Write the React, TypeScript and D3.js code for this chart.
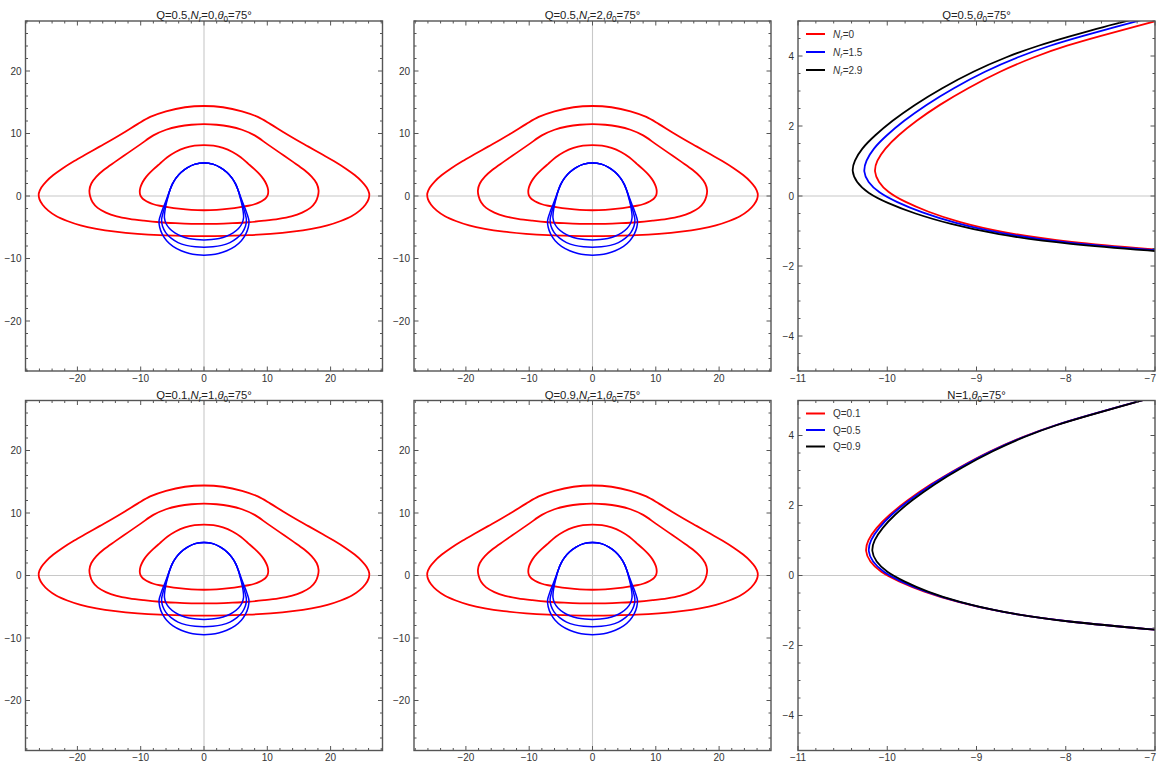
import React from "react";
import * as d3 from "d3";

type Pt = [number, number];

// ---------- Left panels: isoradial half-curves (x >= 0), listed top -> bottom ----------
const outerRed: Pt[] = [
  [0, 14.4], [3, 14.2], [6, 13.55], [8.5, 12.65], [10.5, 11.5], [12.5, 10.25], [14.5, 9.05],
  [16.5, 7.9], [18.5, 6.75], [20.5, 5.6], [22.3, 4.45], [23.8, 3.35], [24.9, 2.35], [25.7, 1.35],
  [26.1, 0.4], [26.0, -0.5], [25.5, -1.4], [24.6, -2.35], [23.3, -3.25], [21.6, -4.0],
  [19.5, -4.7], [17, -5.25], [14, -5.7], [10.5, -6.05], [7, -6.27], [3.5, -6.38], [0, -6.42],
];
const middleRed: Pt[] = [
  [0, 11.5], [2, 11.4], [4, 11.12], [6, 10.6], [8, 9.7], [10, 8.3], [12, 6.9], [14, 5.5],
  [15.8, 4.2], [17.0, 3.1], [17.8, 2.0], [18.1, 0.9], [18.0, 0.0], [17.6, -1.0], [16.8, -1.9],
  [15.5, -2.65], [13.8, -3.25], [11.8, -3.65], [9.5, -3.95], [7, -4.2], [4.5, -4.35],
  [2, -4.45], [0, -4.47],
];
const innerRed: Pt[] = [
  [0, 8.15], [1.5, 8.05], [3, 7.7], [4.5, 7.05], [5.8, 6.2], [7.0, 5.15], [8.0, 4.25],
  [8.8, 3.45], [9.4, 2.7], [9.8, 2.0], [10.05, 1.35], [10.15, 0.68], [10.05, 0.1], [9.8, -0.3],
  [9.4, -0.65], [8.74, -1.03], [7.99, -1.32], [7.0, -1.56], [5.5, -1.83], [4.0, -2.03],
  [2.0, -2.22], [0, -2.28],
];
const blueTop: Pt[] = [
  [0, 5.3], [1.4, 5.1], [2.6, 4.55], [3.6, 3.8], [4.4, 2.9], [5.0, 1.9], [5.4, 0.9],
];
const blueInnerLow: Pt[] = [
  [5.7, -0.2], [6.0, -1.4], [6.2, -2.6], [6.25, -3.5], [6.0, -4.4], [5.45, -5.2],
  [4.6, -5.9], [3.55, -6.45], [2.4, -6.8], [1.2, -6.97], [0, -7.02],
];
const blueMiddleLow: Pt[] = [
  [5.75, -0.2], [6.1, -1.4], [6.45, -2.6], [6.7, -3.8], [6.55, -4.85], [6.05, -5.85],
  [5.2, -6.75], [4.1, -7.45], [2.8, -7.9], [1.4, -8.13], [0, -8.2],
];
const blueOuterLow: Pt[] = [
  [5.8, -0.2], [6.25, -1.4], [6.75, -2.7], [7.1, -3.95], [7.0, -5.0], [6.6, -6.1],
  [5.9, -7.15], [4.9, -8.05], [3.6, -8.75], [2.3, -9.2], [1.1, -9.4], [0, -9.46],
];

// ---------- Right panels: zoom on the inner ring (points ordered by increasing y) ----------
const nrLabels = ["0", "1.5", "2.9"];
const nr0: Pt[] = [
  [-6.9, -1.55], [-7.99, -1.32], [-8.74, -1.03], [-9.2, -0.75], [-9.55, -0.45], [-9.82, -0.15],
  [-10.0, 0.12], [-10.1, 0.4], [-10.15, 0.7], [-10.12, 1.0], [-10.03, 1.35], [-9.88, 1.73],
  [-9.68, 2.14], [-9.42, 2.6], [-9.1, 3.08], [-8.74, 3.56], [-8.35, 3.98], [-7.99, 4.3],
  [-7.6, 4.58], [-7.24, 4.83], [-6.9, 5.06],
];
const nr15: Pt[] = [
  [-6.9, -1.57], [-7.99, -1.35], [-8.76, -1.06], [-9.25, -0.77], [-9.62, -0.47], [-9.9, -0.17],
  [-10.1, 0.1], [-10.22, 0.4], [-10.27, 0.7], [-10.24, 1.0], [-10.16, 1.35], [-10.01, 1.73],
  [-9.82, 2.14], [-9.57, 2.6], [-9.26, 3.08], [-8.91, 3.56], [-8.53, 3.98], [-8.18, 4.3],
  [-7.8, 4.58], [-7.45, 4.83], [-7.1, 5.06],
];
const nr29: Pt[] = [
  [-6.9, -1.59], [-7.99, -1.38], [-8.8, -1.09], [-9.3, -0.8], [-9.7, -0.5], [-10.0, -0.2],
  [-10.22, 0.08], [-10.35, 0.4], [-10.4, 0.72], [-10.37, 1.0], [-10.29, 1.35], [-10.14, 1.73],
  [-9.95, 2.14], [-9.7, 2.6], [-9.39, 3.08], [-9.04, 3.56], [-8.66, 3.98], [-8.31, 4.3],
  [-7.93, 4.58], [-7.58, 4.83], [-7.22, 5.06],
];
const qLabels = ["0.1", "0.5", "0.9"];
const q01: Pt[] = [
  [-6.9, -1.57], [-7.99, -1.33], [-8.75, -1.04], [-9.22, -0.76], [-9.6, -0.46], [-9.88, -0.16],
  [-10.08, 0.1], [-10.2, 0.4], [-10.25, 0.7], [-10.22, 1.0], [-10.13, 1.35], [-9.98, 1.73],
  [-9.78, 2.14], [-9.52, 2.6], [-9.2, 3.08], [-8.85, 3.56], [-8.47, 3.98], [-8.12, 4.3],
  [-7.74, 4.58], [-7.4, 4.83], [-7.06, 5.06],
];
const q05: Pt[] = [
  [-6.9, -1.57], [-7.99, -1.33], [-8.75, -1.04], [-9.21, -0.76], [-9.58, -0.46], [-9.86, -0.16],
  [-10.05, 0.1], [-10.17, 0.4], [-10.22, 0.7], [-10.19, 1.0], [-10.1, 1.35], [-9.96, 1.73],
  [-9.76, 2.14], [-9.51, 2.6], [-9.19, 3.08], [-8.84, 3.56], [-8.46, 3.98], [-8.12, 4.3],
  [-7.74, 4.58], [-7.4, 4.83], [-7.06, 5.06],
];
const q09: Pt[] = [
  [-6.9, -1.57], [-7.99, -1.33], [-8.74, -1.04], [-9.2, -0.76], [-9.56, -0.46], [-9.82, -0.16],
  [-10.01, 0.1], [-10.13, 0.4], [-10.18, 0.7], [-10.15, 1.0], [-10.06, 1.35], [-9.92, 1.73],
  [-9.73, 2.14], [-9.48, 2.6], [-9.17, 3.08], [-8.82, 3.56], [-8.45, 3.98], [-8.11, 4.3],
  [-7.73, 4.58], [-7.39, 4.83], [-7.06, 5.06],
];

// ---------- Tick labels ----------
const isoTickValues = [-20, -10, 0, 10, 20];
const zoomXTickValues = [-11, -10, -9, -8, -7];
const zoomYTickValues = [-4, -2, 0, 2, 4];

type Seg = { t: string; i?: boolean; s?: boolean };
const leftTitles: Seg[][] = [
  [{ t: "Q=0.5," }, { t: "N", i: true }, { t: "r", i: true, s: true }, { t: "=0," }, { t: "θ", i: true }, { t: "0", s: true }, { t: "=75°" }],
  [{ t: "Q=0.5," }, { t: "N", i: true }, { t: "r", i: true, s: true }, { t: "=2," }, { t: "θ", i: true }, { t: "0", s: true }, { t: "=75°" }],
  [{ t: "Q=0.1," }, { t: "N", i: true }, { t: "r", i: true, s: true }, { t: "=1," }, { t: "θ", i: true }, { t: "0", s: true }, { t: "=75°" }],
  [{ t: "Q=0.9," }, { t: "N", i: true }, { t: "r", i: true, s: true }, { t: "=1," }, { t: "θ", i: true }, { t: "0", s: true }, { t: "=75°" }],
];
const rightTitles: Seg[][] = [
  [{ t: "Q=0.5," }, { t: "θ", i: true }, { t: "0", s: true }, { t: "=75°" }],
  [{ t: "N=1," }, { t: "θ", i: true }, { t: "0", s: true }, { t: "=75°" }],
];

const COLORS = ["#ff0000", "#0000ff", "#000000"];
const FONT = "'Liberation Sans', Arial, Helvetica, sans-serif";
const FRAME = "#555555";
const WIDTH = 1157;

const COLS = [{ l: 25.5, w: 357 }, { l: 414, w: 357 }, { l: 798, w: 357 }];
const ROWS = [{ t: 21, h: 350 }, { t: 400.5, h: 350 }];

function mirrorClosed(half: Pt[]): Pt[] {
  const left = half.slice(1, -1).reverse().map(([x, y]) => [-x, y] as Pt);
  return [...half, ...left];
}

function Rich({ segs, x, y, size, anchor, fill }: { segs: Seg[]; x: number; y: number; size: number; anchor: string; fill: string }) {
  const out: React.ReactNode[] = [];
  let inSub = false;
  segs.forEach((s, k) => {
    let dy = 0;
    if (s.s && !inSub) { dy = size * 0.28; inSub = true; }
    else if (!s.s && inSub) { dy = -size * 0.28; inSub = false; }
    out.push(
      <tspan key={k} dy={dy} fontStyle={s.i ? "italic" : "normal"} fontSize={s.s ? size * 0.72 : size}>
        {s.t}
      </tspan>
    );
  });
  return (
    <text x={x} y={y} textAnchor={anchor} fontFamily={FONT} fontSize={size} fill={fill}>
      {out}
    </text>
  );
}

type PanelProps = {
  id: string;
  col: number;
  row: number;
  xDomain: [number, number];
  yDomain: [number, number];
  xMajor: number[];
  yMajor: number[];
  xMinorStep: number;
  yMinorStep: number;
  xLabels: number[];
  yLabels: number[];
  title: Seg[];
  closed: boolean;
  curves: { pts: Pt[]; color: string; width: number }[];
  legend?: { label: Seg[]; color: string }[];
  legendGap?: number;
  showXAxis: boolean;
};

function Panel(p: PanelProps) {
  const { l, w } = COLS[p.col];
  const { t, h } = ROWS[p.row];
  const x = d3.scaleLinear().domain(p.xDomain).range([l, l + w]);
  const y = d3.scaleLinear().domain(p.yDomain).range([t + h, t]);
  const line = d3
    .line<Pt>()
    .x((d) => x(d[0]))
    .y((d) => y(d[1]))
    .curve(p.closed ? d3.curveCatmullRomClosed.alpha(0.5) : d3.curveBasis);

  const eps = 1e-6;
  const xMinor = d3.range(Math.ceil(p.xDomain[0] / p.xMinorStep - eps) * p.xMinorStep, p.xDomain[1] + eps, p.xMinorStep)
    .filter((v) => !p.xMajor.some((m) => Math.abs(m - v) < eps));
  const yMinor = d3.range(Math.ceil(p.yDomain[0] / p.yMinorStep - eps) * p.yMinorStep, p.yDomain[1] + eps, p.yMinorStep)
    .filter((v) => !p.yMajor.some((m) => Math.abs(m - v) < eps));
  const fmt = d3.format("d");
  const MAJ = 4.5, MIN = 2.5;

  return (
    <g>
      <defs>
        <clipPath id={p.id}>
          <rect x={l} y={t} width={w} height={h} />
        </clipPath>
      </defs>
      <g clipPath={`url(#${p.id})`}>
        {p.showXAxis && (
          <line x1={x(0)} x2={x(0)} y1={t} y2={t + h} stroke="#c8c8c8" strokeWidth={1.1} />
        )}
        <line x1={l} x2={l + w} y1={y(0)} y2={y(0)} stroke="#c8c8c8" strokeWidth={1.1} />
        {p.curves.map((c, k) => (
          <path key={k} d={line(c.pts) || ""} fill="none" stroke={c.color} strokeWidth={c.width} strokeLinejoin="round" />
        ))}
      </g>
      <g stroke={FRAME} strokeWidth={1}>
        {p.xMajor.map((v) => (
          <g key={"xm" + v}>
            <line x1={x(v)} x2={x(v)} y1={t + h} y2={t + h - MAJ} />
            <line x1={x(v)} x2={x(v)} y1={t} y2={t + MAJ} />
          </g>
        ))}
        {xMinor.map((v) => (
          <g key={"xn" + v}>
            <line x1={x(v)} x2={x(v)} y1={t + h} y2={t + h - MIN} />
            <line x1={x(v)} x2={x(v)} y1={t} y2={t + MIN} />
          </g>
        ))}
        {p.yMajor.map((v) => (
          <g key={"ym" + v}>
            <line x1={l} x2={l + MAJ} y1={y(v)} y2={y(v)} />
            <line x1={l + w} x2={l + w - MAJ} y1={y(v)} y2={y(v)} />
          </g>
        ))}
        {yMinor.map((v) => (
          <g key={"yn" + v}>
            <line x1={l} x2={l + MIN} y1={y(v)} y2={y(v)} />
            <line x1={l + w} x2={l + w - MIN} y1={y(v)} y2={y(v)} />
          </g>
        ))}
      </g>
      <rect x={l} y={t} width={w} height={h} fill="none" stroke={FRAME} strokeWidth={1.4} />
      <g fontFamily={FONT} fontSize={10} fill="#333">
        {p.xLabels.map((v) => {
          const cx = x(v);
          const nearEdge = cx + 9 > WIDTH;
          return (
            <text key={"xl" + v} x={nearEdge ? WIDTH - 1 : cx} y={t + h + 10.5} textAnchor={nearEdge ? "end" : "middle"}>
              {fmt(v)}
            </text>
          );
        })}
        {p.yLabels.map((v) => (
          <text key={"yl" + v} x={l - 4} y={y(v) + 3.5} textAnchor="end">{fmt(v)}</text>
        ))}
      </g>
      <Rich segs={p.title} x={l + w / 2} y={t - 1.7} size={11.3} anchor="middle" fill="#222" />
      {p.legend && (
        <g>
          {p.legend.map((it, k) => {
            const ly = t + 13 + k * (p.legendGap || 18);
            return (
              <g key={k}>
                <line x1={l + 8} x2={l + 27} y1={ly} y2={ly} stroke={it.color} strokeWidth={2} />
                <Rich segs={it.label} x={l + 35} y={ly + 3.5} size={10} anchor="start" fill="#333" />
              </g>
            );
          })}
        </g>
      )}
    </g>
  );
}

export default function App() {
  const isoCurves = [
    { pts: mirrorClosed(outerRed), color: COLORS[0], width: 1.8 },
    { pts: mirrorClosed(middleRed), color: COLORS[0], width: 1.8 },
    { pts: mirrorClosed(innerRed), color: COLORS[0], width: 1.8 },
    { pts: mirrorClosed([...blueTop, ...blueOuterLow]), color: COLORS[1], width: 1.5 },
    { pts: mirrorClosed([...blueTop, ...blueMiddleLow]), color: COLORS[1], width: 1.5 },
    { pts: mirrorClosed([...blueTop, ...blueInnerLow]), color: COLORS[1], width: 1.5 },
  ];
  const leftPos = [
    { col: 0, row: 0 },
    { col: 1, row: 0 },
    { col: 0, row: 1 },
    { col: 1, row: 1 },
  ];
  const nrSeries = [nr0, nr15, nr29];
  const qSeries = [q01, q05, q09];

  return (
    <svg width={1157} height={763} style={{ position: "absolute", left: 0, top: 0, background: "#fff" }}>
      <rect x={0} y={0} width={1157} height={763} fill="#fff" />
      {leftPos.map((pos, k) => (
        <Panel
          key={"L" + k}
          id={"clipL" + k}
          col={pos.col}
          row={pos.row}
          xDomain={[-28.2, 28.2]}
          yDomain={[-28, 28]}
          xMajor={isoTickValues}
          yMajor={isoTickValues}
          xMinorStep={2}
          yMinorStep={2}
          xLabels={isoTickValues}
          yLabels={isoTickValues}
          title={leftTitles[k]}
          closed={true}
          curves={isoCurves}
          showXAxis={true}
        />
      ))}
      <Panel
        id="clipR0"
        col={2}
        row={0}
        xDomain={[-11, -7]}
        yDomain={[-5, 5]}
        xMajor={zoomXTickValues}
        yMajor={zoomYTickValues}
        xMinorStep={0.2}
        yMinorStep={0.5}
        xLabels={zoomXTickValues}
        yLabels={zoomYTickValues}
        title={rightTitles[0]}
        closed={false}
        curves={nrSeries.map((s, k) => ({ pts: s, color: COLORS[k], width: 1.8 }))}
        legend={nrLabels.map((v, k) => ({
          label: [{ t: "N", i: true }, { t: "r", i: true, s: true }, { t: "=" + v }],
          color: COLORS[k],
        }))}
        legendGap={18}
        showXAxis={false}
      />
      <Panel
        id="clipR1"
        col={2}
        row={1}
        xDomain={[-11, -7]}
        yDomain={[-5, 5]}
        xMajor={zoomXTickValues}
        yMajor={zoomYTickValues}
        xMinorStep={0.2}
        yMinorStep={0.5}
        xLabels={zoomXTickValues}
        yLabels={zoomYTickValues}
        title={rightTitles[1]}
        closed={false}
        curves={qSeries.map((s, k) => ({ pts: s, color: COLORS[k], width: 1.8 }))}
        legend={qLabels.map((v, k) => ({ label: [{ t: "Q=" + v }], color: COLORS[k] }))}
        legendGap={16.5}
        showXAxis={false}
      />
    </svg>
  );
}
